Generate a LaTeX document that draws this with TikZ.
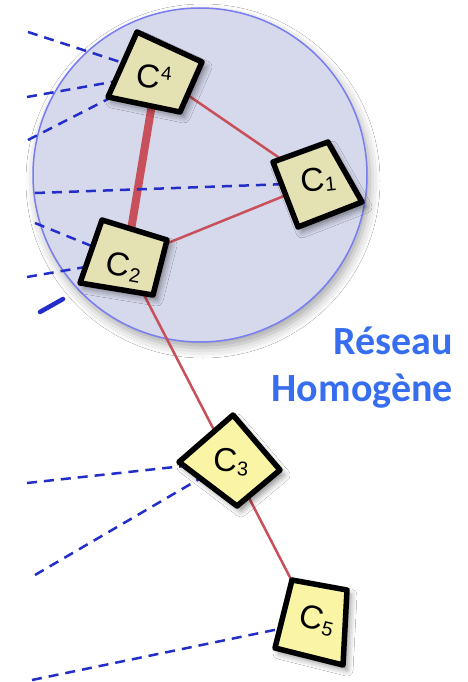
\documentclass[tikz,border=0pt]{standalone}
\usepackage{fontspec}
\setmainfont{Liberation Sans}
\newfontfamily\titlefont{Carlito}
\usetikzlibrary{shadows.blur}
\definecolor{ringfill}{RGB}{214,216,236}
\definecolor{ringdraw}{RGB}{120,125,240}
\definecolor{linkred}{RGB}{200,80,90}
\definecolor{dashblue}{RGB}{35,45,200}
\definecolor{boxin}{RGB}{228,225,178}
\definecolor{boxout}{RGB}{250,245,165}
\definecolor{titleblue}{RGB}{55,110,240}
\begin{document}
\begin{tikzpicture}[x=1pt,y=-1pt,
  link/.style={draw=linkred,line width=2.5pt},
  biglink/.style={draw=linkred,line width=8pt},
  dashlink/.style={draw=dashblue,line width=2.5pt,dash pattern=on 10pt off 7pt},
  boxshape/.style={draw=black,line width=5.5pt,line join=round,
    blur shadow={shadow xshift=4pt,shadow yshift=-5pt,shadow blur radius=6pt,shadow opacity=45}},
  lbl/.style={font=\fontsize{33}{35}\selectfont,inner sep=0pt},
  titletext/.style={font=\titlefont\bfseries\fontsize{40}{46}\selectfont,text=titleblue,inner sep=0pt}]
\useasboundingbox (0,0) rectangle (468,682);
\fill[white] (0,0) rectangle (468,682);
% ring
\path[fill=ringfill,draw=ringdraw,line width=1.5pt,
  blur shadow={shadow xshift=3pt,shadow yshift=-6pt,shadow blur radius=10pt,shadow opacity=35}]
  (200,175) circle[radius=167];
% centres
\coordinate (c4) at (157,74);
\coordinate (c1) at (316,183);
\coordinate (c2) at (126,260);
\coordinate (c3) at (230,461);
\coordinate (c5) at (313,622);
% red links
\draw[biglink] (c4) -- (c2);
\draw[link] (c4) -- (c1);
\draw[link] (c1) -- (c2);
\draw[link] (c2) -- (c3);
\draw[link] (c3) -- (c5);
% dashed blue links
\coordinate (d1) at (28,32);
\coordinate (d2) at (27,97);
\coordinate (d3) at (28,140);
\coordinate (d4) at (35,193);
\coordinate (d5) at (35,223);
\coordinate (d6) at (27,277);
\coordinate (d8) at (27,483);
\coordinate (d9) at (35,575);
\coordinate (d10) at (32,680);
\draw[dashlink] (d1) -- (c4);
\draw[dashlink] (d2) -- (c4);
\draw[dashlink] (d3) -- (c4);
\draw[dashlink] (d4) -- (c1);
\draw[dashlink] (d5) -- (c2);
\draw[dashlink] (d6) -- (c2);
\draw[dashlink] (d8) -- (c3);
\draw[dashlink] (d9) -- (c3);
\draw[dashlink] (d10) -- (c5);
\coordinate (s1) at (40,312);
\coordinate (s2) at (63,299);
\draw[draw=dashblue,line width=4.5pt,line cap=round] (s1) -- (s2);
% boxes
\path[boxshape,fill=boxin] (137,32) -- (202,62) -- (180,112) -- (108,97) -- cycle;
\path[boxshape,fill=boxin] (273,162) -- (328,142) -- (362,202) -- (298,227) -- cycle;
\path[boxshape,fill=boxin] (102,220) -- (167,240) -- (153,295) -- (80,283) -- cycle;
\path[boxshape,fill=boxout] (233,415) -- (280,470) -- (237,506) -- (179,462) -- cycle;
\path[boxshape,fill=boxout] (292,580) -- (347,590) -- (343,665) -- (275,648) -- cycle;
% labels
\node[lbl,rotate=-6] (n4) at (154,77) {C\kern0.5pt\raisebox{10pt}{\fontsize{19}{19}\selectfont 4}};
\node[lbl,rotate=6] (n1) at (318,180) {C\kern0.5pt\raisebox{-1pt}{\fontsize{20}{20}\selectfont 1}};
\node[lbl,rotate=-10] (n2) at (124,267) {C\kern0.5pt\raisebox{-4pt}{\fontsize{20}{20}\selectfont 2}};
\node[lbl,rotate=-4] (n3) at (231,462) {C\kern0.5pt\raisebox{-3pt}{\fontsize{20}{20}\selectfont 3}};
\node[lbl,rotate=-14] (n5) at (317,620) {C\kern0.5pt\raisebox{-3pt}{\fontsize{20}{20}\selectfont 5}};
% title
\node[titletext,anchor=base east] (t1) at (453,354) {Réseau};
\node[titletext,anchor=base east] (t2) at (453,401) {Homogène};
\end{tikzpicture}
\end{document}
